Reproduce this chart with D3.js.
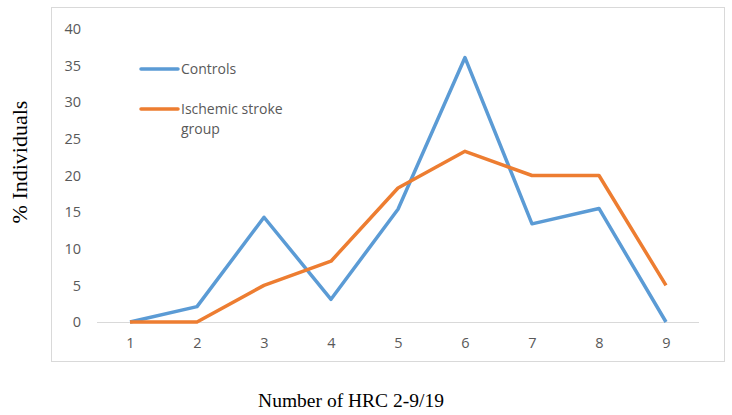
<!DOCTYPE html>
<html><head><meta charset="utf-8">
<script src="https://cdn.jsdelivr.net/npm/d3@7"></script>
<style>body{margin:0;background:#fff}</style>
</head><body>
<svg id="c" width="732" height="415"></svg>
<script>
const categories = [1,2,3,4,5,6,7,8,9];
const controls = [0, 2.1, 14.3, 3.1, 15.4, 36.1, 13.4, 15.5, 0];
const stroke = [0, 0, 5.0, 8.3, 18.3, 23.3, 20.0, 20.0, 5.0];
const yTicks = [0,5,10,15,20,25,30,35,40];
const seriesNames = ["Controls", "Ischemic stroke group"];

const svg = d3.select("#c");
svg.append("rect").attr("x",51.5).attr("y",7.5).attr("width",673).attr("height",354)
  .attr("fill","#fff").attr("stroke","#d9d9d9").attr("stroke-width",1);

const x = d3.scalePoint().domain(categories).range([130,666]);
const y = d3.scaleLinear().domain([0,40]).range([322,29]);

// baseline
svg.append("line").attr("x1",97).attr("x2",699).attr("y1",y(0)+0.5).attr("y2",y(0)+0.5)
  .attr("stroke","#d9d9d9").attr("stroke-width",1);

const font = "'Open Sans', 'Liberation Sans', sans-serif";
const yAxis = d3.axisLeft(y).tickValues(yTicks).tickSize(0).tickPadding(0);
const ga = svg.append("g").attr("transform","translate(81,0)").call(yAxis);
ga.select(".domain").remove();
ga.selectAll("text").attr("fill","#595959").style("font-family",font).style("font-size","14.5px");

const xAxis = d3.axisBottom(x).tickSize(0).tickPadding(0);
const gx = svg.append("g").attr("transform","translate(0,338)").call(xAxis);
gx.select(".domain").remove();
gx.selectAll("text").attr("fill","#595959").style("font-family",font).style("font-size","14.5px");

const line = d3.line().x((d,i)=>x(categories[i])).y(d=>y(d));
svg.append("path").datum(controls).attr("d",line).attr("fill","none")
  .attr("stroke","#5B9BD5").attr("stroke-width",3.5).attr("stroke-linejoin","round");
svg.append("path").datum(stroke).attr("d",line).attr("fill","none")
  .attr("stroke","#ED7D31").attr("stroke-width",3.5).attr("stroke-linejoin","round");

// legend
const leg = [{c:"#5B9BD5", y:69, lines:["Controls"]},{c:"#ED7D31", y:109, lines:["Ischemic stroke","group"]}];
leg.forEach(l=>{
  svg.append("line").attr("x1",141).attr("x2",178).attr("y1",l.y).attr("y2",l.y)
    .attr("stroke",l.c).attr("stroke-width",3.5).attr("stroke-linecap","round");
  l.lines.forEach((t,i)=>{
    svg.append("text").attr("x",181).attr("y",l.y+5+i*19.5).text(t)
      .attr("fill","#595959").style("font-family",font).style("font-size","14px");
  });
});

// axis titles
svg.append("text").attr("transform","translate(27,162) rotate(-90)").attr("text-anchor","middle")
  .text("% Individuals").style("font-family","'Liberation Serif','Times New Roman',serif")
  .style("font-size","22px").attr("fill","#000");
svg.append("text").attr("x",351).attr("y",407).attr("text-anchor","middle")
  .text("Number of HRC 2-9/19").style("font-family","'Liberation Serif','Times New Roman',serif")
  .style("font-size","19.5px").attr("fill","#000");
</script>
</body></html>
